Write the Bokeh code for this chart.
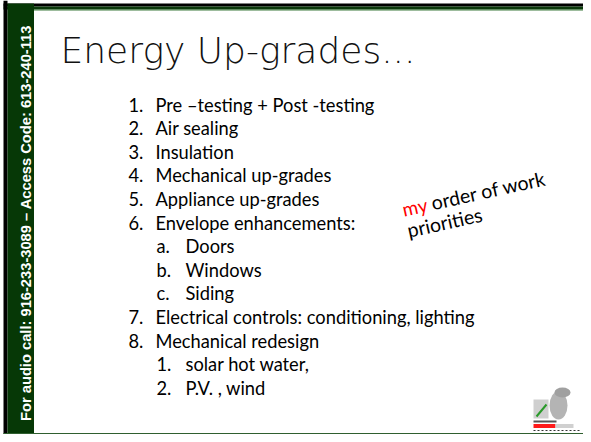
import math
from bokeh.plotting import figure
from bokeh.models import Range1d, ColumnDataSource
from bokeh.core.properties import value
from bokeh.embed import file_html
from bokeh.resources import INLINE

# ---- content ----
title_text = "Energy Up-grades..."
markers = ["1.", "2.", "3.", "4.", "5.", "6.", "a.", "b.", "c.", "7.", "8.", "1.", "2."]
items = [
    "Pre \u2013testing + Post -testing",
    "Air sealing",
    "Insulation",
    "Mechanical up-grades",
    "Appliance up-grades",
    "Envelope enhancements:",
    "Doors",
    "Windows",
    "Siding",
    "Electrical controls: conditioning, lighting",
    "Mechanical redesign",
    "solar hot water,",
    "P.V. , wind",
]
levels = [0, 0, 0, 0, 0, 0, 1, 1, 1, 0, 0, 1, 1]
sidebar_text = "For audio call: 916-233-3089 \u2013 Access Code: 613-240-113"
note_red = "my"
note_black = "order of work"
note_line2 = "priorities"

# ---- layout (screen pixel space) ----
W, H = 583, 434
BODY_FONT = value("Lato")
line0, line_step = 104, 23.6
marker_x = [128, 156]
text_x = [155, 185]

p = figure(width=W, height=H, x_range=Range1d(0, W), y_range=Range1d(H, 0),
           output_backend="svg", toolbar_location=None, min_border=0,
           x_axis_location=None, y_axis_location=None)
p.grid.visible = False
p.outline_line_color = None
p.background_fill_color = "white"
p.border_fill_color = "white"

# frame: top bar, sidebar, bottom line
p.quad(left=[3], right=[W], top=[3], bottom=[6], fill_color="#000000", line_color=None)
p.quad(left=[3], right=[W], top=[6], bottom=[9], fill_color="#0b3a0b", line_color=None)
p.quad(left=[33.5], right=[W], top=[9], bottom=[10], fill_color="#3c7a3c", line_color=None)
p.quad(left=[3], right=[7], top=[0], bottom=[434], fill_color="#000000", line_color=None)
p.quad(left=[7], right=[33.5], top=[3], bottom=[434], fill_color="#063806", line_color=None)
p.quad(left=[3], right=[W], top=[432.5], bottom=[434], fill_color="#2f5f2f", line_color=None)

# sidebar rotated text
p.text(x=[25.5], y=[222.5], text=[sidebar_text], angle=math.pi / 2,
       text_font=value("Liberation Sans"), text_font_style="bold", text_font_size="14.7px",
       text_color="white", text_align="center", text_baseline="alphabetic")

# title
p.text(x=[60], y=[50], text=[title_text],
       text_font=value("'DejaVu Sans Light', 'DejaVu Sans'"), text_font_size="36px",
       text_color="#111111", text_align="left", text_baseline="alphabetic")

# list
ys = [line0 + i * line_step for i in range(len(items))]
src = ColumnDataSource(dict(
    mx=[marker_x[l] for l in levels],
    tx=[text_x[l] for l in levels],
    y=ys, m=markers, t=items))
p.text(x="mx", y="y", text="m", source=src, text_font=BODY_FONT, text_font_size="18.3px",
       text_color="#000000", text_align="left", text_baseline="alphabetic")
p.text(x="tx", y="y", text="t", source=src, text_font=BODY_FONT, text_font_size="18.3px",
       text_color="#000000", text_align="left", text_baseline="alphabetic")

# rotated note
ang = math.radians(12.5)
p.text(x=[402], y=[209], text=[note_red], angle=ang, text_font=BODY_FONT, text_font_size="19px",
       text_color="#ff0000", text_align="left", text_baseline="alphabetic")
p.text(x=[431], y=[202.5], text=[note_black], angle=ang, text_font=BODY_FONT, text_font_size="19.5px",
       text_color="#000000", text_align="left", text_baseline="alphabetic")
p.text(x=[407], y=[230], text=[note_line2], angle=ang, text_font=BODY_FONT, text_font_size="19.5px",
       text_color="#000000", text_align="left", text_baseline="alphabetic")

# small logo (decorative)
p.quad(left=[533], right=[548], top=[399], bottom=[418], fill_color="#cfcfcf", line_color=None)
p.line(x=[536, 541, 546], y=[416, 410, 404], line_color="#2a9a2a", line_width=2)
p.ellipse(x=[558], y=[405], width=[18], height=[28], fill_color="#b4b4b4", line_color=None)
p.ellipse(x=[562], y=[392], width=[16], height=[10], fill_color="#a0a0a0", line_color=None)
p.quad(left=[533], right=[556], top=[420], bottom=[422], fill_color="#555555", line_color=None)
p.quad(left=[533], right=[555], top=[423.5], bottom=[427.5], fill_color="#ff1a1a", line_color=None)
p.quad(left=[555], right=[573], top=[423.5], bottom=[427.5], fill_color="#d0d0d0", line_color=None)
p.line(x=[533, 580], y=[430, 430], line_color="#333333", line_width=1, line_dash="2 2")

open("out.html", "w").write(file_html(p, INLINE))
